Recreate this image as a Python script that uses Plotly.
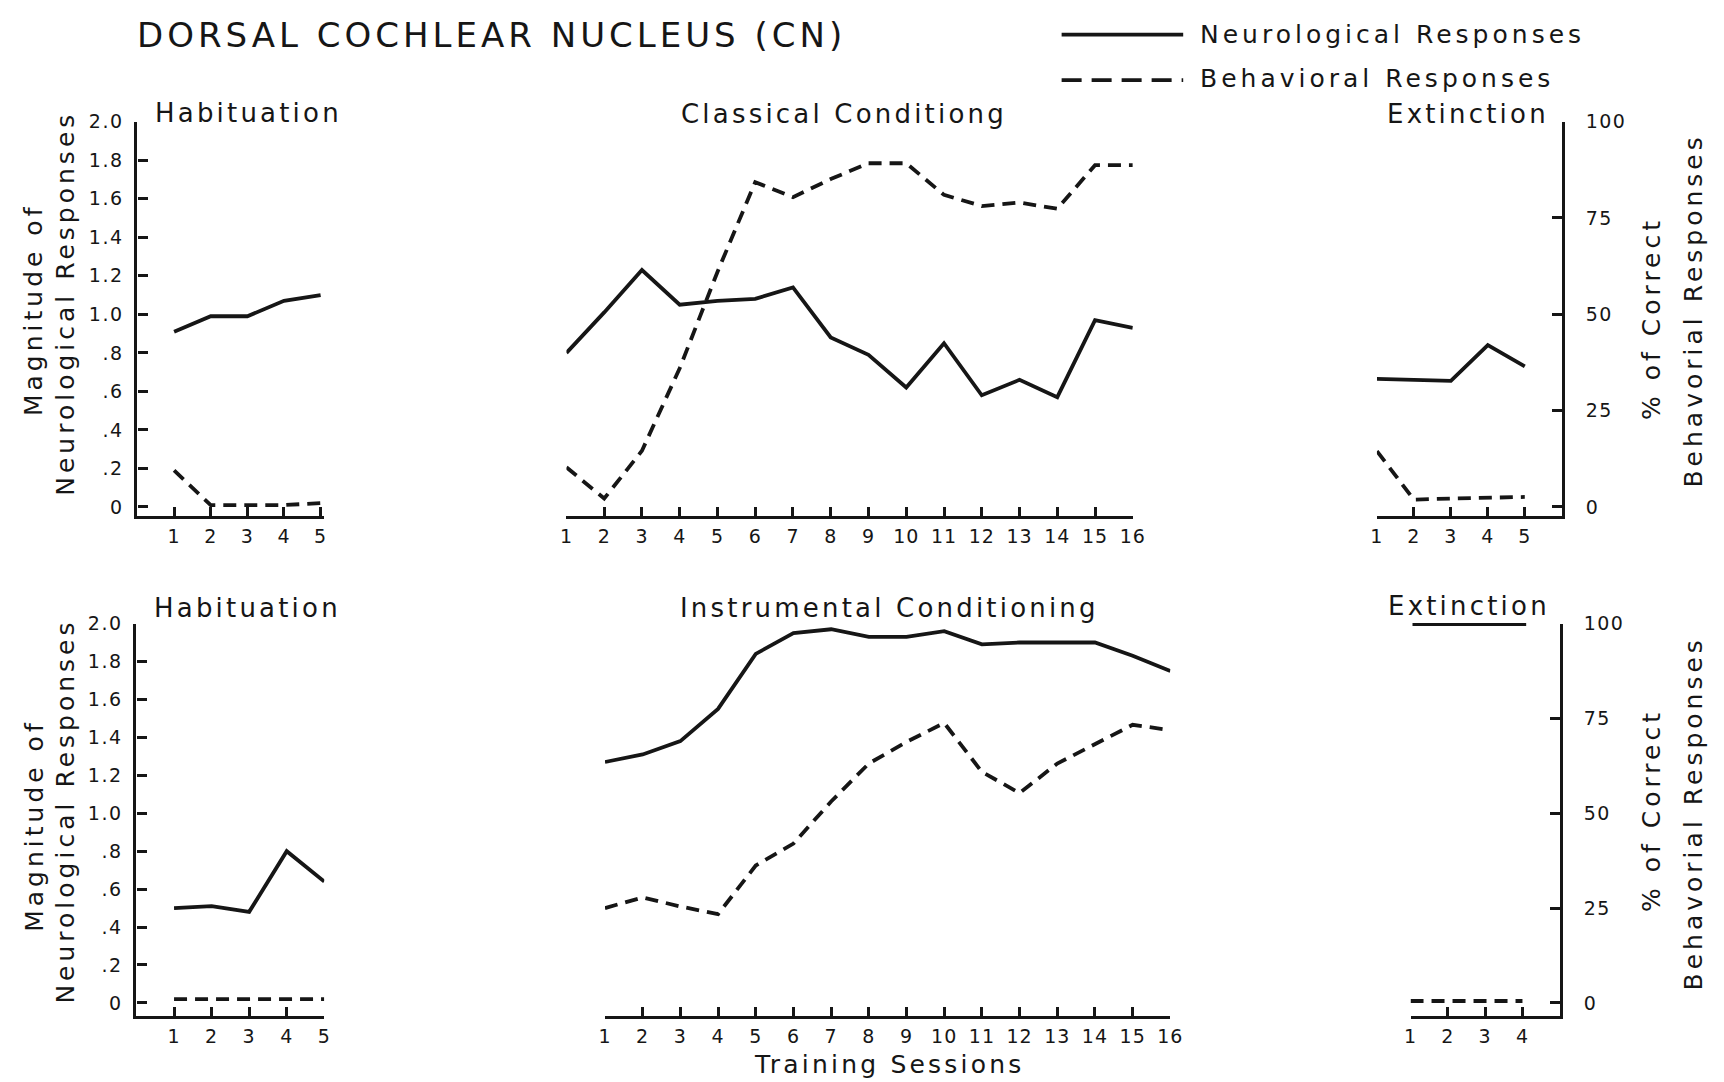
import plotly.graph_objects as go

W, H = 1724, 1082
FONT = "DejaVu Sans"
INK = "#161616"

# ---------------- data ----------------
sessions_hab = [1, 2, 3, 4, 5]
sessions_cond = list(range(1, 17))
sessions_ext_top = [1, 2, 3, 4, 5]
sessions_ext_bottom = [1, 2, 3, 4]

# top row: classical conditioning experiment
top_hab_neuro = [0.91, 0.99, 0.99, 1.07, 1.10]
top_hab_behav = [9.5, 0.5, 0.5, 0.5, 1.0]
classical_neuro = [0.80, 1.01, 1.23, 1.05, 1.07, 1.08, 1.14, 0.88,
                   0.79, 0.62, 0.85, 0.58, 0.66, 0.57, 0.97, 0.93]
classical_behav = [10.3, 2.2, 14.6, 36.0, 61.0, 84.3, 80.4, 85.1,
                   89.2, 89.2, 81.0, 78.1, 79.0, 77.4, 88.7, 88.7]
top_ext_neuro = [0.665, 0.66, 0.655, 0.84, 0.73]
top_ext_behav = [14.5, 1.9, 2.2, 2.4, 2.6]

# bottom row: instrumental conditioning experiment
bottom_hab_neuro = [0.50, 0.51, 0.48, 0.80, 0.64]
bottom_hab_behav = [1.0, 1.0, 1.0, 1.0, 1.0]
instrumental_neuro = [1.27, 1.31, 1.38, 1.55, 1.84, 1.95, 1.97, 1.93,
                      1.93, 1.96, 1.89, 1.90, 1.90, 1.90, 1.83, 1.75]
instrumental_behav = [25.0, 27.8, 25.4, 23.4, 36.2, 42.0, 53.1, 63.1,
                      68.8, 73.8, 60.9, 55.3, 63.1, 68.3, 73.3, 71.9]
bottom_ext_behav = [0.5, 0.5, 0.5, 0.5]

neuro_tickvals = [0, 0.2, 0.4, 0.6, 0.8, 1.0, 1.2, 1.4, 1.6, 1.8, 2.0]
neuro_ticktext = ["0", ".2", ".4", ".6", ".8", "1.0", "1.2", "1.4", "1.6", "1.8", "2.0"]
behav_tickvals = [0, 25, 50, 75, 100]
behav_ticktext = ["0", "25", "50", "75", "100"]

# ---------------- layout helpers ----------------
def fx(p):
    return p / W

def fy(p):
    return 1 - p / H

panels = [
    dict(xd=(132, 321), yd=(112, 511), xr=[0, 5.1], nr=[-0.046, 2.0], br=[-2.3, 100],
         xt=sessions_hab, left=True, right=False,
         x=sessions_hab, neuro=top_hab_neuro, behav=top_hab_behav),
    dict(xd=(566, 1139), yd=(112, 511), xr=[1, 16], nr=[-0.046, 2.0], br=[-2.3, 100],
         xt=sessions_cond, left=False, right=False,
         x=sessions_cond, neuro=classical_neuro, behav=classical_behav),
    dict(xd=(1386, 1573), yd=(112, 511), xr=[1, 6], nr=[-0.046, 2.0], br=[-2.3, 100],
         xt=sessions_ext_top, left=False, right=True,
         x=sessions_ext_top, neuro=top_ext_neuro, behav=top_ext_behav),
    dict(xd=(131, 321), yd=(620, 1017), xr=[0, 5], nr=[-0.068, 2.0], br=[-3.4, 100],
         xt=sessions_hab, left=True, right=False,
         x=sessions_hab, neuro=bottom_hab_neuro, behav=bottom_hab_behav),
    dict(xd=(605, 1177), yd=(620, 1017), xr=[1, 16], nr=[-0.068, 2.0], br=[-3.4, 100],
         xt=sessions_cond, left=False, right=False,
         x=sessions_cond, neuro=instrumental_neuro, behav=instrumental_behav),
    dict(xd=(1420, 1571), yd=(620, 1017), xr=[1, 5], nr=[-0.068, 2.0], br=[-3.4, 100],
         xt=sessions_ext_bottom, left=False, right=True,
         x=sessions_ext_bottom, neuro=None, behav=bottom_ext_behav),
]

def key(prefix, n):
    return prefix + ("" if n == 1 else str(n))

def spaced(text, ls):
    return "<span style='letter-spacing:%spx'>%s</span>" % (ls, text)

fig = go.Figure()
layout = {}
solid = dict(color=INK, width=3.8)
dashed = dict(color=INK, width=3.8, dash="13px,8px")
tickfont = dict(family=FONT, size=19, color=INK)

for i, p in enumerate(panels, start=1):
    xn, yn, bn = i, 2 * i - 1, 2 * i
    ydom = [fy(p["yd"][1]), fy(p["yd"][0])]
    layout[key("xaxis", xn)] = dict(
        domain=[fx(p["xd"][0]), fx(p["xd"][1])], range=p["xr"], anchor=key("y", yn),
        showgrid=False, zeroline=False, showline=True, linecolor=INK, linewidth=3.2,
        ticks="inside", ticklen=9, tickwidth=2.6, tickcolor=INK,
        tickvals=p["xt"], ticktext=[spaced(str(v), 1) for v in p["xt"]], tickfont=tickfont,
        ticklabelstandoff=1, fixedrange=True,
    )
    layout[key("yaxis", yn)] = dict(
        domain=ydom, range=p["nr"], anchor=key("x", xn),
        visible=p["left"], showgrid=False, zeroline=False, showline=True, linecolor=INK,
        linewidth=3.2, ticks="inside", ticklen=10, tickwidth=2.6, tickcolor=INK,
        tickvals=neuro_tickvals, ticktext=[spaced(t, 1.5) for t in neuro_ticktext],
        tickfont=tickfont, ticklabelstandoff=7, fixedrange=True,
    )
    layout[key("yaxis", bn)] = dict(
        domain=ydom, overlaying=key("y", yn), side="right", range=p["br"], anchor=key("x", xn),
        visible=p["right"], showgrid=False, zeroline=False, showline=True, linecolor=INK,
        linewidth=3.2, ticks="inside", ticklen=10, tickwidth=2.6, tickcolor=INK,
        tickvals=behav_tickvals, ticktext=[spaced(t, 1.5) for t in behav_ticktext],
        tickfont=tickfont, ticklabelstandoff=17, fixedrange=True,
    )
    neuro_y = p["neuro"] if p["neuro"] is not None else []
    neuro_x = p["x"] if p["neuro"] is not None else []
    fig.add_trace(go.Scatter(x=neuro_x, y=neuro_y, mode="lines", line=solid,
                             xaxis=key("x", xn), yaxis=key("y", yn),
                             name="Neurological Responses", showlegend=False,
                             hoverinfo="skip"))
    fig.add_trace(go.Scatter(x=p["x"], y=p["behav"], mode="lines", line=dashed,
                             xaxis=key("x", xn), yaxis=key("y", bn),
                             name="Behavioral Responses", showlegend=False,
                             hoverinfo="skip"))

annotations = []

def label(text, x, y, size, ls, angle=0, xanchor="center"):
    annotations.append(dict(
        text=spaced(text, ls), x=fx(x), y=fy(y), xref="paper", yref="paper",
        xanchor=xanchor, yanchor="middle", showarrow=False, textangle=angle,
        font=dict(family=FONT, size=size, color=INK),
    ))

# main title and legend text
label("DORSAL COCHLEAR NUCLEUS (CN)", 130, 24, 34, 4, xanchor="left")
label("Neurological Responses", 1205, 24, 25, 4, xanchor="left")
label("Behavioral Responses", 1205, 68, 25, 4, xanchor="left")

# panel titles
label("Habituation", 244, 103, 26, 3.2)
label("Classical Conditiong", 847, 104, 26, 3.2)
label("Extinction", 1478, 104, 26, 3.2)
label("Habituation", 243, 604, 26, 3.2)
label("Instrumental Conditioning", 893, 604, 26, 3.2)
label("Extinction", 1479, 602, 26, 3.2)

# axis titles
for yc_mag, yc_neu, yc_pct, yc_beh in [(302, 296, 311, 303), (824, 810, 809, 812)]:
    label("Magnitude of", 27, yc_mag, 25, 4, angle=-90)
    label("Neurological Responses", 59, yc_neu, 25, 4, angle=-90)
    label("% of Correct", 1664, yc_pct, 25, 4, angle=-90)
    label("Behavorial Responses", 1706, yc_beh, 25, 4, angle=-90)

label("Training Sessions", 892, 1066, 25, 3.2)

shapes = [
    dict(type="line", xref="paper", yref="paper", x0=fx(1067), x1=fx(1190),
         y0=fy(24), y1=fy(24), line=dict(color=INK, width=3.8)),
    dict(type="line", xref="paper", yref="paper", x0=fx(1067), x1=fx(1190),
         y0=fy(70), y1=fy(70), line=dict(color=INK, width=3.8, dash="20px,10px")),
    dict(type="line", xref="paper", yref="paper", x0=fx(1422), x1=fx(1537),
         y0=fy(621), y1=fy(621), line=dict(color=INK, width=3)),
]

fig.update_layout(
    width=W, height=H, autosize=False,
    margin=dict(l=0, r=0, t=0, b=0, pad=0),
    paper_bgcolor="white", plot_bgcolor="rgba(0,0,0,0)",
    showlegend=False, annotations=annotations, shapes=shapes,
    font=dict(family=FONT, color=INK),
    **layout,
)

fig.write_html("out.html", config={"displayModeBar": False})
